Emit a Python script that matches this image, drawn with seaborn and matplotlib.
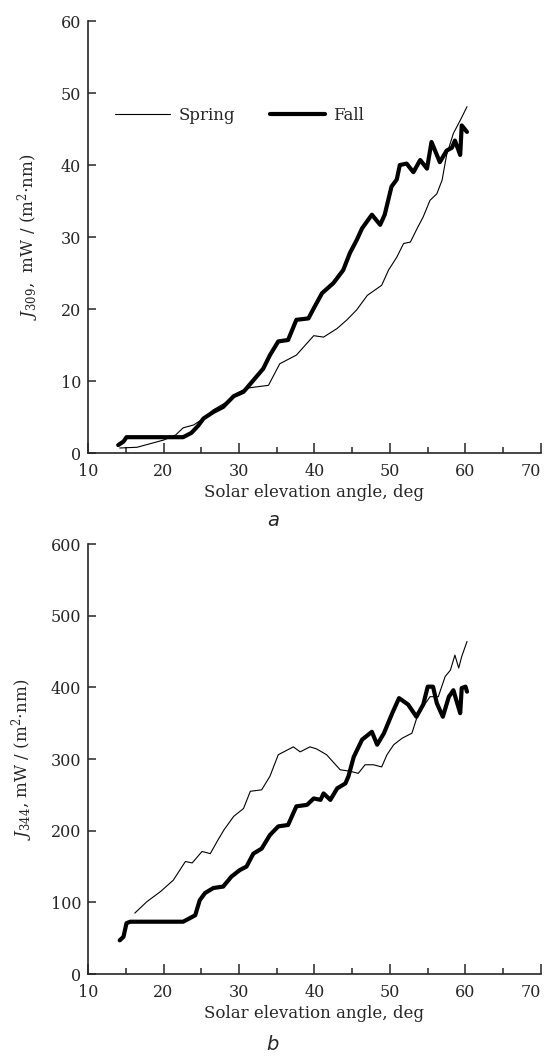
import numpy as np
import pandas as pd
import matplotlib
matplotlib.use("Agg")
import matplotlib.pyplot as plt
from matplotlib.ticker import MultipleLocator
import seaborn as sns

#~~~~~~~~~~~~~~~~~~~~~~~~~~~~~~~~~~~~~~~~~~~~~~~~~~~~~~~~~~~~~~~~~~~~~~~~~~~~#
# data

x_ticks = [10, 20, 30, 40, 50, 60, 70]

# panel a : J309
spring_a_x = [14.2, 16.5, 20.0, 21.6, 22.6, 24.0, 25.3, 26.6, 28.4, 29.7, 31.0,
              32.4, 33.9, 35.4, 37.6, 39.9, 41.2, 43.0, 44.3, 45.6, 47.0, 48.9,
              49.8, 50.9, 51.8, 52.7, 53.6, 54.4, 55.3, 56.2, 56.9, 57.5, 58.4,
              59.3, 60.2]
spring_a_y = [0.7, 0.8, 1.8, 2.5, 3.5, 3.9, 4.8, 6.0, 7.1, 8.3, 9.0,
              9.2, 9.4, 12.4, 13.6, 16.3, 16.1, 17.3, 18.5, 19.9, 21.9, 23.3,
              25.4, 27.2, 29.1, 29.3, 31.2, 32.8, 35.1, 36.0, 37.9, 41.4, 44.4,
              46.2, 48.1]

fall_a_x = [14.0, 14.7, 15.1, 22.6, 23.7, 24.6, 25.3, 26.6, 27.9, 29.3, 30.6,
            31.9, 33.2, 34.1, 35.2, 36.5, 37.6, 39.2, 39.9, 41.0, 42.5, 43.8,
            44.7, 45.6, 46.3, 47.6, 48.7, 49.3, 50.2, 50.9, 51.3, 52.2, 53.1,
            54.0, 54.9, 55.5, 56.6, 57.5, 58.2, 58.6, 59.3, 59.5, 60.2]
fall_a_y = [1.1, 1.6, 2.2, 2.2, 2.8, 3.8, 4.8, 5.7, 6.4, 7.9, 8.5,
            10.1, 11.7, 13.6, 15.5, 15.7, 18.5, 18.7, 20.1, 22.2, 23.6, 25.4,
            27.8, 29.6, 31.2, 33.1, 31.7, 33.1, 37.0, 38.0, 40.0, 40.2, 39.0,
            40.7, 39.5, 43.2, 40.4, 42.0, 42.4, 43.4, 41.4, 45.5, 44.6]

# panel b : J344
spring_b_x = [16.2, 17.8, 19.6, 21.3, 22.9, 23.8, 25.1, 26.2, 27.1, 28.0, 29.3,
              30.6, 31.5, 33.0, 34.1, 35.2, 37.2, 38.1, 39.4, 40.3, 41.6, 43.4,
              44.7, 45.8, 46.7, 47.8, 48.9, 49.6, 50.5, 51.6, 52.9, 53.6, 54.4,
              55.3, 56.4, 57.3, 58.0, 58.6, 59.1, 59.5, 60.2]
spring_b_y = [85, 101, 115, 131, 157, 155, 171, 168, 185, 201, 220,
              231, 255, 257, 276, 306, 317, 310, 317, 314, 306, 285,
              283, 280, 292, 292, 289, 306, 320, 329, 336, 359, 373,
              387, 387, 415, 424, 445, 427, 443, 464]

fall_b_x = [14.2, 14.7, 15.1, 15.6, 22.6, 23.5, 24.2, 24.8, 25.5, 26.6, 27.9,
            29.0, 30.1, 31.0, 31.9, 33.0, 34.1, 35.2, 36.5, 37.6, 39.0, 39.9,
            40.8, 41.2, 42.1, 43.0, 44.1, 44.5, 45.2, 46.3, 47.6, 48.3, 49.2,
            50.3, 51.2, 52.4, 53.5, 54.4, 55.0, 55.7, 56.2, 57.0, 57.8, 58.4,
            58.9, 59.3, 59.5, 60.0, 60.2]
fall_b_y = [47, 52, 71, 73, 73, 78, 82, 103, 113, 120, 122,
            136, 145, 150, 168, 175, 194, 206, 208, 234, 236, 245,
            243, 252, 243, 259, 266, 276, 303, 327, 338, 320, 336,
            364, 385, 376, 359, 376, 401, 401, 378, 359, 387, 396,
            378, 364, 399, 401, 394]

#~~~~~~~~~~~~~~~~~~~~~~~~~~~~~~~~~~~~~~~~~~~~~~~~~~~~~~~~~~~~~~~~~~~~~~~~~~~~#
# style
sns.set_style("ticks")
plt.rcParams['font.family'] = ['DejaVu Serif']
plt.rcParams['mathtext.fontset'] = 'dejavuserif'
plt.rcParams['axes.linewidth'] = 1.2

fig = plt.figure(figsize=(5.49, 10.57), dpi=100)
ax_a = fig.add_axes([0.1603, 0.5714, 0.8251, 0.4087])
ax_b = fig.add_axes([0.1603, 0.0785, 0.8251, 0.4068])


def draw_panel(ax, sx, sy, fx, fy, ymax, ystep, ylabel, ypad):
    spring = pd.DataFrame({'x': sx, 'y': sy})
    fall = pd.DataFrame({'x': fx, 'y': fy})
    sns.lineplot(data=spring, x='x', y='y', ax=ax, color='black', linewidth=0.8,
                 sort=False, estimator=None, label='Spring')
    sns.lineplot(data=fall, x='x', y='y', ax=ax, color='black', linewidth=3.0,
                 sort=False, estimator=None, label='Fall')
    ax.set_xlim(10, 70)
    ax.set_ylim(0, ymax)
    ax.set_xticks(x_ticks)
    ax.xaxis.set_minor_locator(MultipleLocator(5))
    ax.yaxis.set_major_locator(MultipleLocator(ystep))
    ax.tick_params(axis='x', which='major', direction='in', length=7, width=1.1,
                   labelsize=11.5, pad=7)
    ax.tick_params(axis='x', which='minor', direction='in', length=4.5, width=1.1)
    ax.tick_params(axis='y', which='major', direction='in', length=5.5, width=1.1,
                   labelsize=11.5, pad=5)
    sns.despine(ax=ax)
    ax.set_xlabel('Solar elevation angle, deg', fontsize=12, labelpad=3)
    ax.set_ylabel(ylabel, fontsize=12, labelpad=ypad)
    # last x tick label ("70") sits left of its tick, as in the reference
    ax.get_xticklabels()[-1].set_horizontalalignment('right')


draw_panel(ax_a, spring_a_x, spring_a_y, fall_a_x, fall_a_y, 60, 10,
           r'$J_{309}$,  mW / (m$^2$$\cdot$nm)', 14)
draw_panel(ax_b, spring_b_x, spring_b_y, fall_b_x, fall_b_y, 600, 100,
           r'$J_{344}$, mW / (m$^2$$\cdot$nm)', 11)

ax_a.legend(loc='center left', bbox_to_anchor=(0.06, 0.782), ncol=2,
            frameon=False, fontsize=12, handlelength=3.3, handletextpad=0.5,
            columnspacing=2.1, borderpad=0, borderaxespad=0)
ax_b.get_legend().remove()

fig.text(0.497, 0.508, 'a', fontsize=14, style='italic', family='DejaVu Sans',
         ha='center', va='center')
fig.text(0.497, 0.0114, 'b', fontsize=14, style='italic', family='DejaVu Sans',
         ha='center', va='center')

plt.savefig('out.png', dpi=100, facecolor='white')
